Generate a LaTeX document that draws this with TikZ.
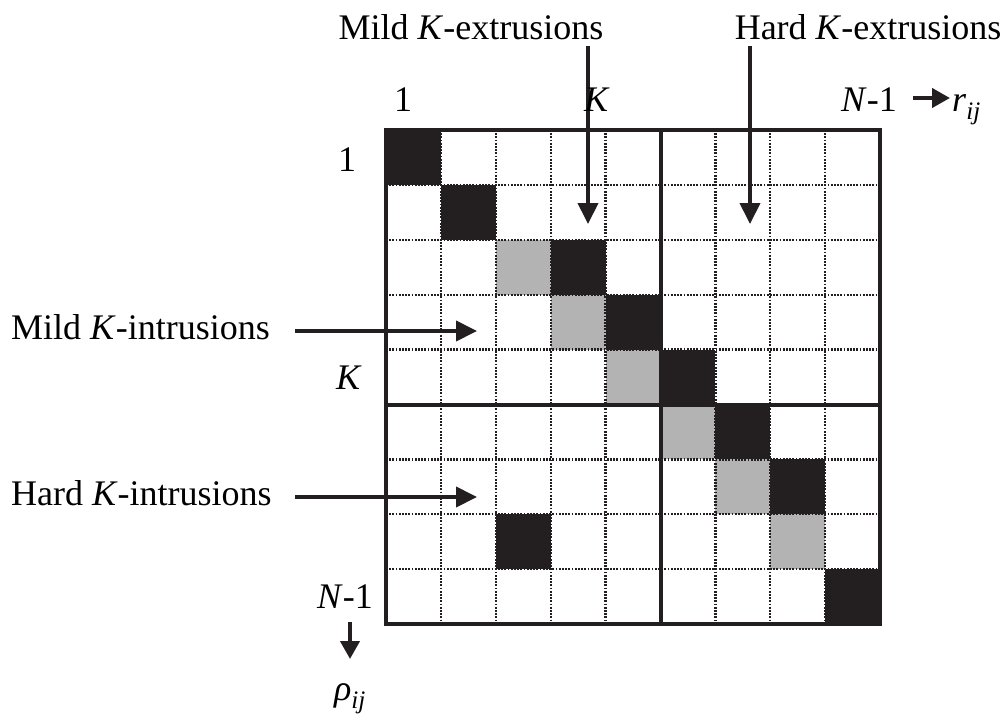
\documentclass[tikz,border=0pt]{standalone}
\usepackage{fontspec}
\setmainfont{Liberation Serif}
\usetikzlibrary{arrows.meta}
\definecolor{cellblack}{HTML}{231F20}
\definecolor{cellgray}{HTML}{B3B3B3}
\tikzset{
  lbl/.style={font=\fontsize{36}{40}\selectfont, inner sep=0pt},
  bigarrow/.style={line width=4pt, draw=cellblack, -{Triangle[length=21pt,width=20pt]}},
  smallarrow/.style={line width=4pt, draw=cellblack, -{Triangle[length=18pt,width=19pt]}},
  dotline/.style={line width=2.3pt, draw=cellblack, dash pattern=on 1.8pt off 1.4pt},
  thickline/.style={line width=4pt, draw=cellblack},
}
\newcommand{\cs}{54.9}
\begin{document}
\begin{tikzpicture}[x=1pt,y=-1pt]
\useasboundingbox (0,0) rectangle (1006,720);
% filled cells
\foreach \r/\c in {1/1,2/2,3/4,4/5,5/6,6/7,7/8,8/3,9/9}{
  \fill[cellblack] ({386+(\c-1)*\cs},{130+(\r-1)*\cs}) rectangle ++(\cs,\cs);
}
\foreach \r/\c in {3/3,4/4,5/5,6/6,7/7,8/8}{
  \fill[cellgray] ({386+(\c-1)*\cs},{130+(\r-1)*\cs}) rectangle ++(\cs,\cs);
}
% dotted grid
\foreach \i in {1,...,8}{
  \draw[dotline] ({386+\i*\cs},130) -- ({386+\i*\cs},{130+9*\cs});
  \draw[dotline] (386,{130+\i*\cs}) -- ({386+9*\cs},{130+\i*\cs});
}
% thick lines
\draw[thickline] ({386+5*\cs},130) -- ({386+5*\cs},{130+9*\cs});
\draw[thickline] (386,{130+5*\cs}) -- ({386+9*\cs},{130+5*\cs});
\draw[thickline] (386,130) rectangle ({386+9*\cs},{130+9*\cs});

% top labels
\node[lbl, anchor=base] (mext) at (471,39) {Mild \textit{K}-extrusions};
\node[lbl, anchor=base] (hext) at (868,39) {Hard \textit{K}-extrusions};
\coordinate (mexts) at (588,46);
\coordinate (mexte) at (588,224);
\coordinate (hexts) at (750,46);
\coordinate (hexte) at (750,224);
\draw[bigarrow] (mexts) -- (mexte);
\draw[bigarrow] (hexts) -- (hexte);

% column labels
\node[lbl, anchor=base] (c1) at (403,111) {1};
\node[lbl, anchor=base] (cK) at (597,111) {\textit{K}};
\node[lbl, anchor=base] (cN) at (869,111) {\textit{N}-1};
\node[lbl, anchor=base west] (rij) at (952,111) {\textit{r}\textsubscript{\textit{ij}}};
\coordinate (ra) at (913,98);
\coordinate (rb) at (950,98);
\draw[smallarrow] (ra) -- (rb);

% row labels
\node[lbl, anchor=base] (r1) at (347,171) {1};
\node[lbl, anchor=base] (rK) at (349,389) {\textit{K}};
\node[lbl, anchor=base] (rN) at (345,608) {\textit{N}-1};
\node[lbl, anchor=base] (rho) at (350,700) {\textit{ρ}\textsubscript{\textit{ij}}};
\coordinate (da) at (350,622);
\coordinate (db) at (350,659);
\draw[smallarrow] (da) -- (db);

% left labels
\node[lbl, anchor=base west] (mint) at (11,339) {Mild \textit{K}-intrusions};
\node[lbl, anchor=base west] (hint) at (11,505) {Hard \textit{K}-intrusions};
\coordinate (mints) at (295,331);
\coordinate (minte) at (477,331);
\coordinate (hints) at (295,497);
\coordinate (hinte) at (477,497);
\draw[bigarrow] (mints) -- (minte);
\draw[bigarrow] (hints) -- (hinte);
\end{tikzpicture}
\end{document}
